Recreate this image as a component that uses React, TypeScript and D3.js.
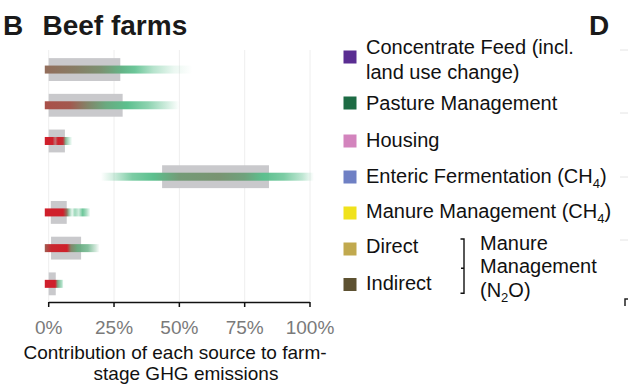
import React from "react";
import * as d3 from "d3";

// ---------- data ----------
const sources = [
  "Concentrate Feed",
  "Pasture Management",
  "Housing",
  "Enteric Fermentation",
  "Manure Management (CH4)",
  "Direct",
  "Indirect",
];

// interquartile-like grey range (% of farm-stage emissions)
const rangeLow = [0, 0, 0, 43.4, 0.8, 0.9, 0];
const rangeHigh = [27.4, 28.3, 6.2, 84.3, 6.9, 12.4, 2.7];

// density strips: [percent, colour mix (0 = red, 1 = green), density]
const strip1 = [[-1.5, 0.45, 1], [10, 0.55, 1], [20, 0.68, 1], [28, 0.92, 1], [33, 1, 0.9], [40, 1, 0.45], [48, 1, 0.12], [55, 1, 0]];
const strip2 = [[-1.5, 0.28, 1], [8, 0.33, 1], [15, 0.6, 1], [22, 0.85, 1], [30, 1, 1], [38, 1, 0.7], [45, 1, 0.3], [50, 1, 0]];
const strip3 = [[-1.5, 0, 1], [1.5, 0, 1], [2.5, 0.15, 0.6], [3.5, 0, 1], [5.5, 0.1, 1], [6.5, 0.8, 0.8], [8, 1, 0.3], [9, 1, 0]];
const strip4 = [[20, 1, 0], [25, 1, 0.3], [32, 1, 0.8], [40, 1, 1], [50, 0.75, 1], [65, 0.7, 1], [75, 0.8, 1], [82, 1, 1], [90, 1, 0.8], [97, 1, 0.4], [101.5, 1, 0]];
const strip5 = [[-1.5, 0, 1], [5.5, 0, 1], [7, 0.5, 1], [8, 0.9, 0.6], [9, 1, 0.15], [10, 1, 0.6], [11.5, 1, 0.3], [13, 1, 0.9], [14.5, 1, 0.5], [16, 1, 0]];
const strip6 = [[-1.5, 0.35, 1], [1, 0.05, 1], [7, 0, 1], [8.5, 0.6, 1], [11, 0.85, 1], [15, 0.9, 0.8], [18, 0.9, 0.3], [19.5, 0.9, 0]];
const strip7 = [[-1.5, 0, 1], [2.5, 0, 1], [3.5, 0.8, 0.9], [5, 1, 0.5], [5.7, 1, 0]];
const strips = [strip1, strip2, strip3, strip4, strip5, strip6, strip7];

const tickValues = [0, 25, 50, 75, 100];

const legendColors = ["#5a2d92", "#1d6b44", "#d384bd", "#6f80c4", "#f0e21c", "#c1a94e", "#5d5131"];

// ---------- layout ----------
const W = 628;
const H = 389;
const FONT = "'Liberation Sans', Arial, Helvetica, sans-serif";

const x = d3.scaleLinear().domain([0, 100]).range([48.7, 310]);
const y = d3.scaleBand<number>().domain(d3.range(sources.length)).range([51.7, 301.7]).paddingInner(0.36).paddingOuter(0.18);
const mix = d3.scaleLinear<string>().domain([0, 0.5, 1]).range(["#cf1f2b", "#8c7660", "#5cc08e"]).interpolate(d3.interpolateRgb);

export default function App() {
  const barH = 8;
  const boxH = y.bandwidth();
  return (
    <svg width={W} height={H} style={{ position: "absolute", left: 0, top: 0, background: "#fff" }} fontFamily={FONT}>
      <defs>
        {strips.map((s, i) => {
          const x0 = x(s[0][0]);
          const x1 = x(s[s.length - 1][0]);
          return (
            <linearGradient key={i} id={`g${i}`} gradientUnits="userSpaceOnUse" x1={x0} x2={x1} y1={0} y2={0}>
              {s.map((st, j) => (
                <stop key={j} offset={(x(st[0]) - x0) / (x1 - x0)} stopColor={mix(st[1])} stopOpacity={st[2]} />
              ))}
            </linearGradient>
          );
        })}
      </defs>

      {/* titles */}
      <text x={3} y={35} fontSize={28} fontWeight="bold" fill="#1a1a1a">B</text>
      <text x={42.5} y={35} fontSize={28} fontWeight="bold" fill="#1a1a1a">Beef farms</text>
      <text x={589} y={35} fontSize={28} fontWeight="bold" fill="#1a1a1a">D</text>

      {/* gridlines */}
      {tickValues.map((t) => (
        <line key={t} x1={x(t)} x2={x(t)} y1={50} y2={301} stroke="#eeeeee" strokeWidth={1} />
      ))}

      {/* grey ranges */}
      {sources.map((s, i) => (
        <rect key={s} x={x(rangeLow[i])} width={x(rangeHigh[i]) - x(rangeLow[i])} y={(y(i) as number)} height={boxH} fill="#c9c9cc" />
      ))}

      {/* density strips */}
      {strips.map((s, i) => {
        const x0 = x(s[0][0]);
        const x1 = x(s[s.length - 1][0]);
        const cy = (y(i) as number) + boxH / 2;
        return <rect key={i} x={x0} width={x1 - x0} y={cy - barH / 2} height={barH} fill={`url(#g${i})`} />;
      })}

      {/* axis */}
      <line x1={x(0)} x2={x(100)} y1={302.5} y2={302.5} stroke="#111" strokeWidth={1.5} />
      {tickValues.map((t) => (
        <g key={t}>
          <line x1={x(t)} x2={x(t)} y1={302} y2={307} stroke="#111" strokeWidth={1.5} />
          <text x={x(t)} y={334} fontSize={19} fill="#7a7a7a" textAnchor="middle">{`${t}%`}</text>
        </g>
      ))}
      <text x={175} y={358.5} fontSize={19} fill="#111" textAnchor="middle">Contribution of each source to farm-</text>
      <text x={186} y={380} fontSize={19} fill="#111" textAnchor="middle">stage GHG emissions</text>

      {/* legend */}
      {[57, 103, 141, 177, 213, 249, 284.5].map((cy, i) => (
        <rect key={i} x={343.5} y={cy - 6.5} width={13} height={13} fill={legendColors[i]} />
      ))}
      <g fontSize={20} fill="#111">
        <text x={366} y={54.3}>Concentrate Feed (incl.</text>
        <text x={366} y={79.3}>land use change)</text>
        <text x={366} y={110}>Pasture Management</text>
        <text x={366} y={146.7}>Housing</text>
        <text x={366} y={182.7}>
          Enteric Fermentation (CH<tspan fontSize={13} dy={5}>4</tspan><tspan dy={-5}>)</tspan>
        </text>
        <text x={366} y={218}>
          Manure Management (CH<tspan fontSize={13} dy={5}>4</tspan><tspan dy={-5}>)</tspan>
        </text>
        <text x={366} y={253.3}>Direct</text>
        <text x={366} y={290}>Indirect</text>
        <text x={480} y={250}>Manure</text>
        <text x={480} y={273.3}>Management</text>
        <text x={480} y={296.7}>
          (N<tspan fontSize={13} dy={5}>2</tspan><tspan dy={-5}>O)</tspan>
        </text>
      </g>
      <path d="M460.5,239 H464 V293.3 H460.5 M464,268.3 H461" fill="none" stroke="#111" strokeWidth={1.4} />

      {/* fragments of neighbouring panel D */}
      {[50, 113, 177, 240].map((yy) => (
        <line key={yy} x1={620} x2={628} y1={yy} y2={yy} stroke="#e4e4e4" strokeWidth={1} />
      ))}
      <path d="M625,306 V299 H628" fill="none" stroke="#222" strokeWidth={1.5} />
    </svg>
  );
}
